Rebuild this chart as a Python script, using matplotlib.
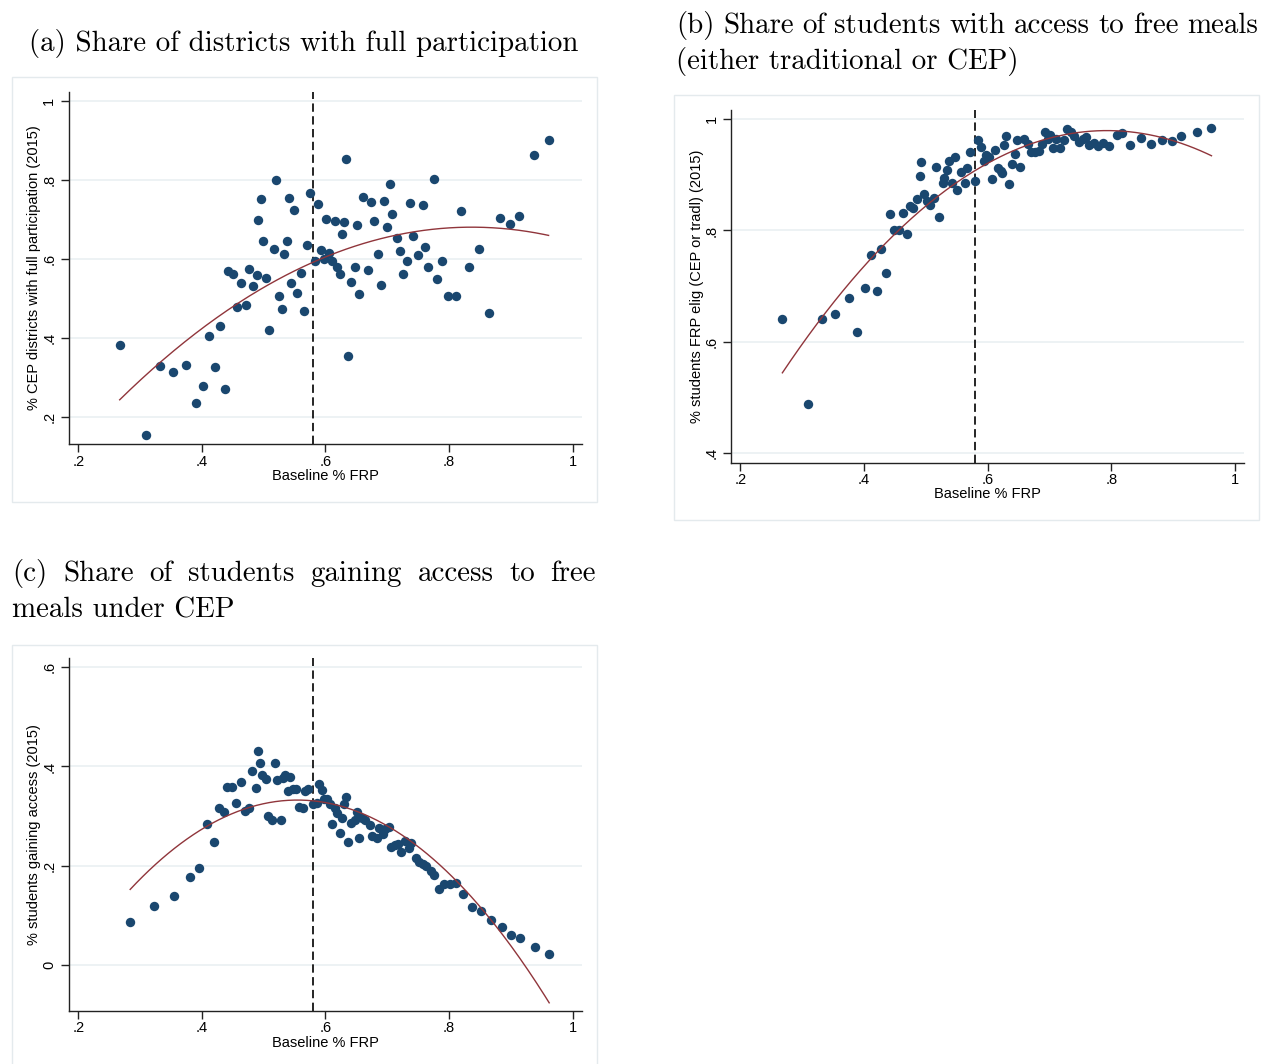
import numpy as np
import matplotlib
matplotlib.use("Agg")
import matplotlib.pyplot as plt
from matplotlib.patches import Rectangle

W, H = 1262, 1064

# (a) binned share of CEP districts with full participation
frp_a = [0.268, 0.310, 0.332, 0.354, 0.375, 0.390, 0.402, 0.412, 0.422, 0.429,
         0.437, 0.443, 0.450, 0.457, 0.464, 0.471, 0.476, 0.482, 0.489, 0.491,
         0.495, 0.499, 0.504, 0.509, 0.516, 0.520, 0.524, 0.530, 0.533, 0.537,
         0.541, 0.545, 0.549, 0.554, 0.560, 0.565, 0.570, 0.575,
         0.583, 0.588, 0.593, 0.597, 0.601, 0.605, 0.611, 0.616, 0.619, 0.623,
         0.626, 0.630, 0.633, 0.637, 0.642, 0.647, 0.651, 0.655, 0.661, 0.668,
         0.673, 0.679, 0.685, 0.690, 0.695, 0.700, 0.704, 0.708, 0.715, 0.720,
         0.726, 0.732, 0.736, 0.742, 0.750, 0.757, 0.761, 0.766, 0.775, 0.781,
         0.789, 0.799, 0.812, 0.820, 0.833, 0.849, 0.865, 0.883, 0.898, 0.913,
         0.938, 0.961]
full_part = [0.383, 0.155, 0.330, 0.314, 0.333, 0.236, 0.278, 0.405, 0.328, 0.431,
             0.272, 0.569, 0.563, 0.478, 0.540, 0.485, 0.575, 0.531, 0.559, 0.698,
             0.752, 0.646, 0.553, 0.421, 0.625, 0.799, 0.506, 0.473, 0.612, 0.645,
             0.753, 0.540, 0.725, 0.513, 0.564, 0.469, 0.636, 0.768,
             0.596, 0.739, 0.622, 0.599, 0.701, 0.615, 0.595, 0.695, 0.579, 0.563,
             0.663, 0.693, 0.853, 0.356, 0.543, 0.580, 0.685, 0.511, 0.757, 0.571,
             0.743, 0.696, 0.612, 0.535, 0.747, 0.682, 0.790, 0.713, 0.652, 0.620,
             0.562, 0.595, 0.742, 0.657, 0.609, 0.737, 0.630, 0.581, 0.802, 0.550,
             0.595, 0.507, 0.506, 0.721, 0.580, 0.625, 0.463, 0.704, 0.688, 0.708,
             0.862, 0.900]
fit_a_x = [0.267, 0.332, 0.413, 0.494, 0.575, 0.813, 0.961]
fit_a_y = [0.250, 0.337, 0.429, 0.522, 0.594, 0.683, 0.657]

# (b) binned share of students FRP eligible (CEP or traditional)
frp_b = [0.268, 0.309, 0.332, 0.353, 0.375, 0.389, 0.401, 0.411, 0.421, 0.427,
         0.435, 0.442, 0.448, 0.456, 0.463, 0.469, 0.474, 0.480, 0.486, 0.490,
         0.493, 0.497, 0.502, 0.507, 0.514, 0.517, 0.522, 0.527, 0.530, 0.535,
         0.538, 0.542, 0.547, 0.551, 0.557, 0.563, 0.567, 0.572,
         0.580, 0.585, 0.589, 0.594, 0.597, 0.602, 0.607, 0.612, 0.617, 0.621,
         0.623, 0.627, 0.630, 0.634, 0.639, 0.644, 0.648, 0.652, 0.658, 0.665,
         0.670, 0.676, 0.683, 0.688, 0.692, 0.698, 0.701, 0.706, 0.711, 0.717,
         0.724, 0.729, 0.735, 0.740, 0.748, 0.754, 0.759, 0.764, 0.772, 0.778,
         0.787, 0.797, 0.810, 0.818, 0.831, 0.848, 0.864, 0.882, 0.898, 0.912,
         0.938, 0.962]
frp_elig = [0.641, 0.489, 0.641, 0.650, 0.678, 0.618, 0.696, 0.756, 0.691, 0.766,
            0.723, 0.830, 0.801, 0.801, 0.831, 0.794, 0.844, 0.841, 0.856, 0.898,
            0.922, 0.865, 0.852, 0.845, 0.858, 0.913, 0.824, 0.885, 0.895, 0.909,
            0.925, 0.885, 0.932, 0.873, 0.905, 0.886, 0.912, 0.940,
            0.888, 0.962, 0.949, 0.924, 0.936, 0.931, 0.893, 0.944, 0.912, 0.907,
            0.904, 0.953, 0.970, 0.884, 0.920, 0.937, 0.962, 0.914, 0.964, 0.956,
            0.940, 0.941, 0.943, 0.955, 0.976, 0.964, 0.971, 0.948, 0.964, 0.948,
            0.963, 0.982, 0.976, 0.970, 0.959, 0.965, 0.968, 0.954, 0.957, 0.952,
            0.957, 0.952, 0.972, 0.975, 0.953, 0.966, 0.955, 0.963, 0.960, 0.970,
            0.976, 0.984]
fit_b_x = [0.268, 0.331, 0.409, 0.449, 0.516, 0.570, 0.662, 0.716, 0.781, 0.851, 0.905, 0.962]
fit_b_y = [0.547, 0.642, 0.741, 0.795, 0.858, 0.900, 0.955, 0.971, 0.979, 0.973, 0.959, 0.934]

# (c) binned share of students gaining access under CEP
frp_c = [0.284, 0.323, 0.355, 0.381, 0.396, 0.409, 0.420, 0.427, 0.435, 0.441,
         0.448, 0.456, 0.463, 0.470, 0.476, 0.481, 0.487, 0.491, 0.494, 0.497,
         0.503, 0.507, 0.513, 0.518, 0.522, 0.528, 0.531, 0.535, 0.540, 0.543,
         0.548, 0.552, 0.557, 0.563, 0.567, 0.572,
         0.579, 0.586, 0.590, 0.594, 0.598, 0.602, 0.608, 0.611, 0.616, 0.619,
         0.623, 0.626, 0.630, 0.633, 0.637, 0.641, 0.647, 0.651, 0.655, 0.659,
         0.664, 0.672, 0.676, 0.684, 0.687, 0.693, 0.697, 0.702, 0.706, 0.713,
         0.718, 0.722, 0.729, 0.735, 0.739, 0.746, 0.752, 0.757, 0.763, 0.770,
         0.776, 0.783, 0.791, 0.801, 0.811, 0.823, 0.837, 0.852, 0.868, 0.885,
         0.900, 0.914, 0.939, 0.962]
gain_access = [0.087, 0.119, 0.138, 0.176, 0.196, 0.284, 0.248, 0.317, 0.308, 0.359,
               0.358, 0.326, 0.369, 0.311, 0.317, 0.390, 0.356, 0.431, 0.407, 0.383,
               0.375, 0.301, 0.291, 0.406, 0.372, 0.291, 0.376, 0.383, 0.351, 0.379,
               0.354, 0.355, 0.318, 0.316, 0.351, 0.355,
               0.324, 0.326, 0.365, 0.353, 0.334, 0.334, 0.325, 0.283, 0.317, 0.307,
               0.265, 0.297, 0.325, 0.338, 0.247, 0.286, 0.291, 0.309, 0.256, 0.297,
               0.291, 0.281, 0.260, 0.256, 0.275, 0.264, 0.273, 0.277, 0.238, 0.242,
               0.244, 0.227, 0.250, 0.235, 0.246, 0.215, 0.208, 0.203, 0.200, 0.190,
               0.180, 0.153, 0.162, 0.162, 0.164, 0.142, 0.117, 0.108, 0.090, 0.076,
               0.059, 0.054, 0.036, 0.021]
fit_c_x = [0.284, 0.322, 0.408, 0.484, 0.538, 0.592, 0.642, 0.722, 0.776, 0.830, 0.883, 0.962]
fit_c_y = [0.153, 0.198, 0.282, 0.316, 0.328, 0.328, 0.320, 0.265, 0.211, 0.144, 0.063, -0.075]

cutoff = 0.58
x_ticks = [0.2, 0.4, 0.6, 0.8, 1.0]
x_tick_labels = [".2", ".4", ".6", ".8", "1"]
y_ticks_a = [0.2, 0.4, 0.6, 0.8, 1.0]
y_tick_labels_a = [".2", ".4", ".6", ".8", "1"]
y_ticks_b = [0.4, 0.6, 0.8, 1.0]
y_tick_labels_b = [".4", ".6", ".8", "1"]
y_ticks_c = [0.0, 0.2, 0.4, 0.6]
y_tick_labels_c = ["0", ".2", ".4", ".6"]

NAVY = "#1a476f"
MAROON = "#90353b"
GRID = "#e8eff1"
SANS = "Liberation Sans"
SERIF = "cmr10"

plt.rcParams["lines.scale_dashes"] = False

fig = plt.figure(figsize=(W / 100, H / 100), dpi=100)
fig.patch.set_facecolor("white")


def fx(px):
    return px / W


def fy(py):
    return 1 - py / H


def panel(box, region, x, y, fit_x, fit_y, xlim, ylim, yticks, ytick_labels,
          ylabel, xlabel_py, ylabel_px):
    left, top, right, bottom = box
    # light outline around each graph region
    fig.patches.append(Rectangle((fx(region[0]), fy(region[3])),
                                 fx(region[2] - region[0]), (region[3] - region[1]) / H,
                                 transform=fig.transFigure, fill=False,
                                 edgecolor="#e4eaed", linewidth=1.0))
    ax = fig.add_axes([fx(left), fy(bottom), fx(right - left), (bottom - top) / H])
    ax.set_xlim(*xlim)
    ax.set_ylim(*ylim)
    for yt in yticks:
        ax.axhline(yt, color=GRID, lw=1.1, zorder=0)
    ax.axvline(cutoff, color="black", lw=1.2, dashes=(6, 3.2), zorder=1.5)
    ax.scatter(x, y, s=46, color=NAVY, linewidths=0, zorder=2)
    coef = np.polyfit(fit_x, fit_y, 2)
    xs = np.linspace(min(fit_x), max(fit_x), 200)
    ax.plot(xs, np.polyval(coef, xs), color=MAROON, lw=1.0, zorder=3)

    for side in ("top", "right"):
        ax.spines[side].set_visible(False)
    for side in ("left", "bottom"):
        ax.spines[side].set_color("#222222")
        ax.spines[side].set_linewidth(1.0)
    ax.set_xticks(x_ticks, x_tick_labels, fontsize=10.5, fontfamily=SANS)
    ax.set_yticks(yticks, ytick_labels, fontsize=10.5, fontfamily=SANS,
                  rotation=90, va="center")
    ax.tick_params(length=6, width=1.0, color="#222222")
    ax.tick_params(axis="x", pad=1.5)
    ax.tick_params(axis="y", pad=3)
    ax.set_xlabel("Baseline % FRP", fontsize=10.5, fontfamily=SANS, va="center")
    ax.xaxis.set_label_coords(0.5, (bottom - xlabel_py) / (bottom - top))
    ax.set_ylabel(ylabel, fontsize=10.5, fontfamily=SANS, va="center")
    ax.yaxis.set_label_coords((ylabel_px - left) / (right - left), 0.5)
    return ax


panel((68.7, 91.7, 581.7, 444.3), (12, 77, 597, 502), frp_a, full_part,
      fit_a_x, fit_a_y, (0.1845, 1.0146), (0.1318, 1.0227),
      y_ticks_a, y_tick_labels_a,
      "% CEP districts with full participation (2015)", 476, 34)
panel((731.3, 110, 1244, 463), (674, 95, 1259, 520), frp_b, frp_elig,
      fit_b_x, fit_b_y, (0.1854, 1.0146), (0.3826, 1.0162),
      y_ticks_b, y_tick_labels_b,
      "% students FRP elig (CEP or tradl) (2015)", 494, 697)
panel((68.7, 658.3, 581.7, 1011), (12, 645, 597, 1070), frp_c, gain_access,
      fit_c_x, fit_c_y, (0.1845, 1.0146), (-0.0934, 0.6182),
      y_ticks_c, y_tick_labels_c,
      "% students gaining access (2015)", 1043, 34)

# titles: size chosen so the (a) title spans its measured width
renderer = fig.canvas.get_renderer()
probe = fig.text(0, 0, "(a) Share of districts with full participation",
                 fontsize=20, fontfamily=SERIF)
probe_w = probe.get_window_extent(renderer).width
probe.remove()
TSIZE = 20 * 551 / probe_w

fig.text(fx(303.5), fy(51), "(a) Share of districts with full participation",
         fontsize=TSIZE, fontfamily=SERIF, ha="center", va="baseline")


def justified(text, x0, x1, py):
    words = text.split()
    objs = [fig.text(fx(x0), fy(py), w, fontsize=TSIZE, fontfamily=SERIF,
                     ha="left", va="baseline") for w in words]
    widths = [o.get_window_extent(renderer).width for o in objs]
    gap = (x1 - x0 - sum(widths)) / (len(words) - 1)
    pos = x0
    for o, w in zip(objs, widths):
        o.set_x(fx(pos))
        pos += w + gap


justified("(b) Share of students with access to free meals", 676, 1258, 33)
fig.text(fx(676), fy(69), "(either traditional or CEP)", fontsize=TSIZE,
         fontfamily=SERIF, ha="left", va="baseline")
justified("(c) Share of students gaining access to free", 12, 596, 581)
fig.text(fx(12), fy(617), "meals under CEP", fontsize=TSIZE,
         fontfamily=SERIF, ha="left", va="baseline")

fig.savefig("out.png", dpi=100, facecolor="white")
